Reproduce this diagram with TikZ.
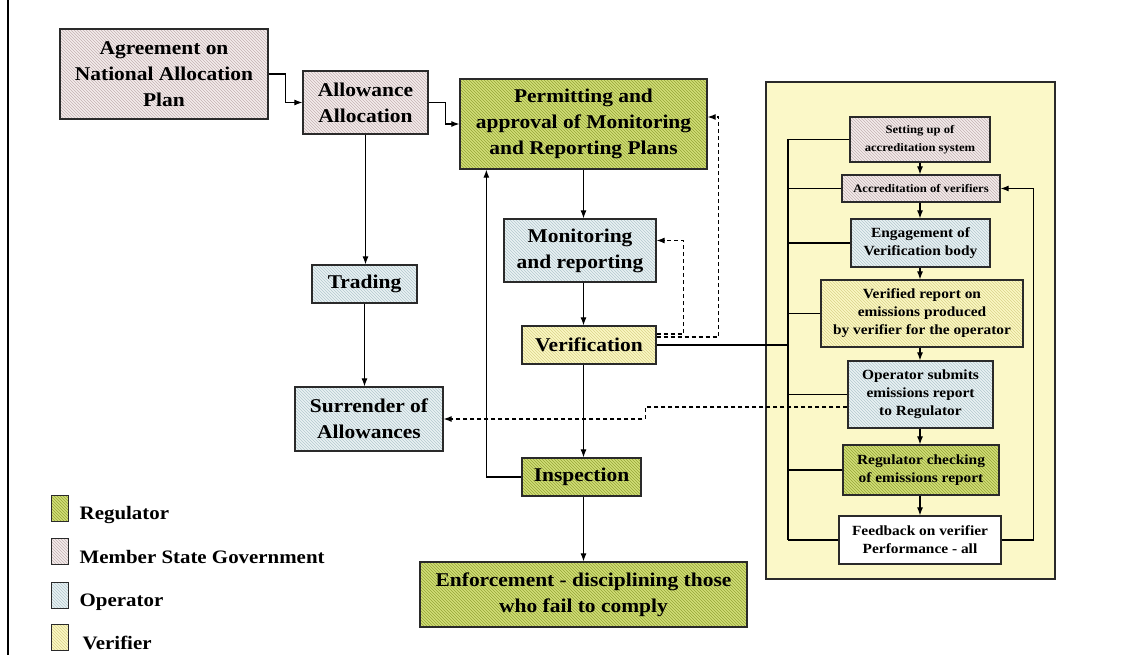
\documentclass[tikz,border=0pt]{standalone}
\usepackage{fontspec}
\setmainfont{Liberation Serif}[FakeStretch=1.1]
\usepackage{tikz}
\usetikzlibrary{arrows.meta, positioning, calc, patterns}

\definecolor{regfill}{HTML}{D2DE78}
\definecolor{regline}{HTML}{94A536}
\definecolor{msgfill}{HTML}{F4ECEC}
\definecolor{msgline}{HTML}{C4B2B2}
\definecolor{opfill}{HTML}{EAF2F4}
\definecolor{opline}{HTML}{B3C8CE}
\definecolor{verfill}{HTML}{FBF8C4}
\definecolor{verline}{HTML}{DAD38A}
\definecolor{panelfill}{HTML}{FBF8C8}
\definecolor{edge}{HTML}{2A2A2A}

\newcommand{\bigtxt}{\fontsize{19.5}{26}\selectfont\bfseries}
\newcommand{\midtxt}{\fontsize{14}{18}\selectfont\bfseries}
\newcommand{\smalltxt}{\fontsize{11.5}{18}\selectfont\bfseries}

\begin{document}
\begin{tikzpicture}[
  x=1pt, y=-1pt,
  box/.style={draw=edge, line width=1.3pt, inner sep=0pt, align=center, font=\bigtxt},
  regbox/.style={box, preaction={fill=regfill}, pattern=north west lines, pattern color=regline},
  msgbox/.style={box, preaction={fill=msgfill}, pattern=north west lines, pattern color=msgline},
  opbox/.style={box, preaction={fill=opfill}, pattern=north west lines, pattern color=opline},
  verbox/.style={box, preaction={fill=verfill}, pattern=north west lines, pattern color=verline},
  arr/.style={-{Latex[length=8pt,width=6pt]}, line width=1.1pt},
  darr/.style={arr, dash pattern=on 4pt off 3pt},
  link/.style={line width=1.1pt},
  legtext/.style={font=\fontsize{19}{22}\selectfont\bfseries, inner sep=0pt, text height=13pt, text depth=4pt},
]

\useasboundingbox (0,0) rectangle (1134,655);

% page edge
\draw[line width=2pt] (8,0) -- (8,655);

% --- Allocation side ---
\node[msgbox, minimum width=208, minimum height=90] (agree) at (164,74) {Agreement on\\National Allocation\\Plan};
\node[msgbox, minimum width=125, minimum height=63] (alloc) at (365.5,102.5) {Allowance\\Allocation};
\node[opbox, minimum width=105, minimum height=38] (trade) at (364.5,284) {Trading};
\node[opbox, minimum width=148, minimum height=64] (surr) at (369,419) {Surrender of\\Allowances};

% --- Permitting column ---
\node[regbox, minimum width=247, minimum height=90] (permit) at (583.5,124) {Permitting and\\approval of Monitoring\\and Reporting Plans};
\node[opbox, minimum width=152, minimum height=63] (monit) at (580,250.5) {Monitoring\\and reporting};
\node[verbox, minimum width=134, minimum height=38] (verif) at (589,345) {Verification};
\node[regbox, minimum width=119, minimum height=38] (insp) at (581.5,477) {Inspection};
\node[regbox, minimum width=327, minimum height=65] (enforce) at (583.5,594.5) {Enforcement - disciplining those\\who fail to comply};

% --- Verification panel ---
\node[draw=edge, line width=1.3pt, fill=panelfill, minimum width=289, minimum height=497] (panel) at (910.5,330.5) {};
\node[msgbox, font=\smalltxt, minimum width=140, minimum height=45] (setup) at (920,139.5) {Setting up of\\accreditation system};
\node[msgbox, font=\smalltxt, minimum width=158, minimum height=27] (accred) at (921,188.5) {Accreditation of verifiers};
\node[opbox, font=\midtxt, minimum width=139, minimum height=48] (engage) at (920.5,243) {Engagement of\\Verification body};
\node[verbox, font=\midtxt, minimum width=202, minimum height=67] (vreport) at (922,313.5) {Verified report on\\emissions produced\\by verifier for the operator};
\node[opbox, font=\midtxt, minimum width=145, minimum height=67] (opsub) at (920.5,394.5) {Operator submits\\emissions report\\to Regulator};
\node[regbox, font=\midtxt, minimum width=156, minimum height=50] (regchk) at (921,470) {Regulator checking\\of emissions report};
\node[box, fill=white, font=\midtxt, minimum width=162, minimum height=48] (feedback) at (920,540) {Feedback on verifier\\Performance - all};

\coordinate (bus) at (788,0);

% --- Connectors ---
\draw[arr] (agree.east) -- ++(17,0) |- (alloc.west);
\draw[arr] (alloc.east) -- ++(17,0) |- (permit.west);
\draw[arr] (alloc.south) -- (alloc.south |- trade.north);
\draw[arr] (trade.south) -- (trade.south |- surr.north);

\draw[arr] (permit.south) -- (permit.south |- monit.north);
\draw[arr] (permit.south |- monit.south) -- (permit.south |- verif.north);
\draw[arr] (permit.south |- verif.south) -- (permit.south |- insp.north);
\draw[arr] (permit.south |- insp.south) -- (permit.south |- enforce.north);
\draw[arr] (insp.west) -| ([xshift=27pt]permit.south west);

% feedback from verification (dashed)
\draw[darr] ([yshift=11pt]verif.east) -- ++(27,0) |- ([yshift=10pt]monit.east);
\draw[darr] ([yshift=8pt]verif.east) -- ++(62,0) |- ([yshift=7pt]permit.east);
\draw[darr] ([yshift=-12.5pt]opsub.west) -- ++(-202,0) |- (surr.east);

% verification into the panel
\draw[link] (verif.east) -| (bus |- engage.west) -- (engage.west);

% left bus of the panel
\draw[link] (bus |- setup.west) -- (bus |- feedback.west);
\draw[link] (bus |- setup.west) -- (setup.west);
\draw[link] (bus |- accred.west) -- (accred.west);
\draw[link] (bus |- vreport.west) -- (vreport.west);
\draw[link] (bus |- opsub.west) -- (opsub.west);
\draw[link] (bus |- regchk.west) -- (regchk.west);
\draw[link] (bus |- feedback.west) -- (feedback.west);

% steps down the panel
\draw[arr] (setup.south) -- (setup.south |- accred.north);
\draw[arr] (setup.south |- accred.south) -- (setup.south |- engage.north);
\draw[arr] (setup.south |- engage.south) -- (setup.south |- vreport.north);
\draw[arr] (setup.south |- vreport.south) -- (setup.south |- opsub.north);
\draw[arr] (setup.south |- opsub.south) -- (setup.south |- regchk.north);
\draw[arr] (setup.south |- regchk.south) -- (setup.south |- feedback.north);
\draw[arr] (feedback.east) -- ++(32,0) |- (accred.east);

% --- Legend ---
\node[regbox, line width=1pt, minimum width=17, minimum height=26] (lgreg) at (59.5,508) {};
\node[msgbox, line width=1pt, minimum width=17, minimum height=26] (lgmsg) at (59.5,551.5) {};
\node[opbox, line width=1pt, minimum width=17, minimum height=26] (lgop) at (59.5,595) {};
\node[verbox, line width=1pt, minimum width=17, minimum height=26] (lgver) at (59.5,637.5) {};
\node[legtext, right=11pt of lgreg, yshift=-7pt] (lgregtxt) {Regulator};
\node[legtext, right=11pt of lgmsg, yshift=-7pt] (lgmsgtxt) {Member State Government};
\node[legtext, right=11pt of lgop, yshift=-7pt] (lgoptxt) {Operator};
\node[legtext, right=14pt of lgver, yshift=-7pt] (lgvertxt) {Verifier};

\end{tikzpicture}
\end{document}
